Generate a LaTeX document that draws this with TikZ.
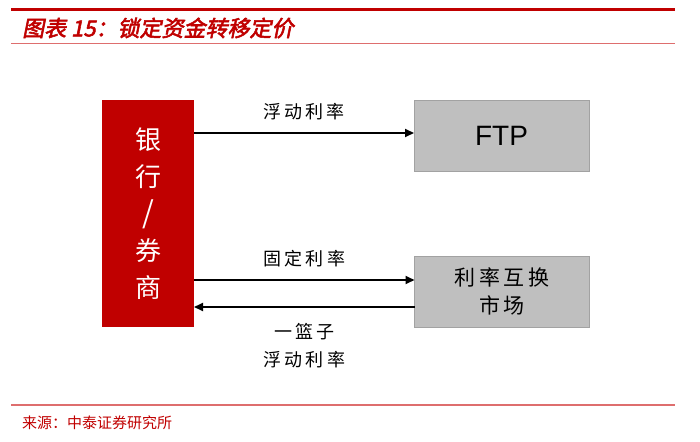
\documentclass[tikz,border=0pt]{standalone}
\usepackage{fontspec}
\usetikzlibrary{arrows.meta,positioning}
\newfontfamily\cjk{Noto Sans CJK SC}
\newfontfamily\cjkwide[LetterSpace=18]{Noto Sans CJK SC}
\newfontfamily\titlefont[FakeSlant=0.2,FakeBold=2.5]{Noto Sans CJK SC}
\setsansfont{Liberation Sans}
\definecolor{htred}{RGB}{192,0,0}
\definecolor{htpink}{RGB}{222,110,110}
\definecolor{htgray}{RGB}{191,191,191}

\begin{document}
\begin{tikzpicture}[x=1pt,y=-1pt,>={Triangle[length=9pt,width=8pt]},
  redbox/.style={fill=htred,inner sep=0pt,outer sep=0pt,text=white,align=center,
    font=\cjk\fontsize{26}{37}\selectfont},
  graybox/.style={fill=htgray,draw=htgray!85!black,very thin,inner sep=0pt,outer sep=0pt,
    minimum width=175pt,minimum height=71pt,align=center},
  flow/.style={->,line width=1.8pt},
  ratelabel/.style={font=\cjkwide\fontsize{18}{28}\selectfont,align=center,inner sep=0pt}]
\useasboundingbox (0,0) rectangle (700,441);
% Kopf und Fuss
\draw[htred,line width=3.5pt] (11,9.5)--(675,9.5);
\draw[htpink,line width=1.2pt] (11,43.5)--(675,43.5);
\draw[htpink,line width=1.2pt] (11,405)--(675,405);
\node[anchor=west,inner sep=0pt,text=htred,font=\titlefont\fontsize{22}{24}\selectfont]
  (title) at (22,28) {图表 15：锁定资金转移定价};
\node[anchor=west,inner sep=0pt,text=htred,font=\cjk\fontsize{15}{18}\selectfont]
  (source) at (22,423) {来源：中泰证券研究所};
% Kaesten
\node[redbox,minimum width=92pt,minimum height=227pt] (bank) at (148,213.5)
  {银\\行\\{\fontsize{30}{37}\selectfont /}\\券\\商};
\node[graybox,font=\sffamily\fontsize{28}{30}\selectfont] (ftp) at (501.5,135.5) {FTP};
\node[graybox,font=\cjkwide\fontsize{21}{28}\selectfont] (swap) at (502,291.5)
  {利率互换\\市场};
% Pfeile
\draw[flow] ([yshift=2.5pt]ftp.west -| bank.east) -- ([yshift=2.5pt]ftp.west)
  node[ratelabel,midway,above=12pt] (lblfloat) {浮动利率};
\draw[flow] ([yshift=11.5pt]swap.west -| bank.east) -- ([yshift=11.5pt]swap.west)
  node[ratelabel,midway,above=12pt] (lblfixed) {固定利率};
\draw[flow] ([yshift=-15.5pt]swap.west) -- ([yshift=-15.5pt]swap.west -| bank.east)
  node[ratelabel,midway,below=15pt] (lblbasket) {一篮子\\浮动利率};
\end{tikzpicture}
\end{document}
